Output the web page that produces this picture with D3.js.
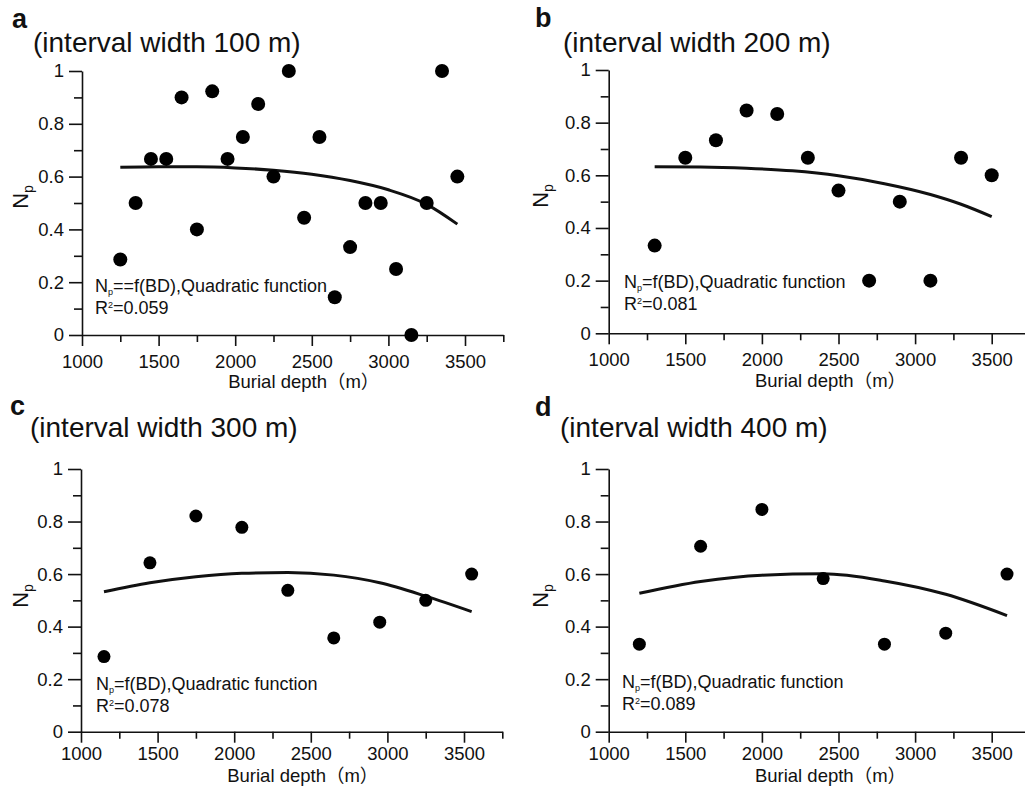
<html>
<head>
<meta charset="utf-8">
<script src="https://d3js.org/d3.v7.min.js"></script>
<style>
    html, body {
        width: 100%;
        height: 100%;
        margin: 0;
        padding: 0;
        background: #fff;
    }
    svg text {
        font-family: "Liberation Sans", Arial, "Noto Sans CJK SC", sans-serif;
        fill: #111;
    }
</style>
</head>
<body>
<script>
    // panel a (interval width 100 m)
    var depthA = [1250, 1350, 1450, 1550, 1650, 1750, 1850, 1950, 2050, 2150, 2250, 2350,
                  2450, 2550, 2650, 2750, 2850, 2950, 3050, 3150, 3250, 3350, 3450];
    var npA = [0.286, 0.5, 0.667, 0.667, 0.9, 0.4, 0.923, 0.667, 0.75, 0.875, 0.6, 1.0,
               0.444, 0.75, 0.143, 0.333, 0.5, 0.5, 0.25, 0, 0.5, 1.0, 0.6];
    var fitDepthA = [1250, 1500, 1750, 2000, 2250, 2500, 2750, 3000, 3250, 3450];
    var fitNpA = [0.635, 0.637, 0.637, 0.633, 0.624, 0.609, 0.585, 0.55, 0.495, 0.42];

    // panel b (interval width 200 m)
    var depthB = [1300, 1500, 1700, 1900, 2100, 2300, 2500, 2700, 2900, 3100, 3300, 3500];
    var npB = [0.333, 0.667, 0.733, 0.846, 0.833, 0.667, 0.542, 0.2, 0.5, 0.2, 0.667, 0.6];
    var fitDepthB = [1300, 1600, 1900, 2200, 2500, 2800, 3100, 3300, 3500];
    var fitNpB = [0.633, 0.632, 0.627, 0.617, 0.598, 0.568, 0.527, 0.49, 0.443];

    // panel c (interval width 300 m)
    var depthC = [1150, 1450, 1750, 2050, 2350, 2650, 2950, 3250, 3550];
    var npC = [0.286, 0.643, 0.821, 0.778, 0.538, 0.357, 0.417, 0.5, 0.6];
    var fitDepthC = [1150, 1450, 1750, 2050, 2350, 2650, 2950, 3250, 3550];
    var fitNpC = [0.533, 0.567, 0.59, 0.603, 0.606, 0.596, 0.567, 0.516, 0.457];

    // panel d (interval width 400 m)
    var depthD = [1200, 1600, 2000, 2400, 2800, 3200, 3600];
    var npD = [0.333, 0.706, 0.846, 0.583, 0.333, 0.375, 0.6];
    var fitDepthD = [1200, 1600, 2000, 2400, 2800, 3200, 3600];
    var fitNpD = [0.527, 0.572, 0.596, 0.601, 0.574, 0.523, 0.442];

    var panelLetters = ["a", "b", "c", "d"];
    var panelTitles = ["(interval width 100 m)", "(interval width 200 m)",
                       "(interval width 300 m)", "(interval width 400 m)"];
    var eqLabels = ["==f(BD),Quadratic function", "=f(BD),Quadratic function",
                    "=f(BD),Quadratic function", "=f(BD),Quadratic function"];
    var r2Labels = ["=0.059", "=0.081", "=0.078", "=0.089"];

    var xMajorTicks = [1000, 1500, 2000, 2500, 3000, 3500];
    var xMinorTicks = [1250, 1750, 2250, 2750, 3250, 3750];
    var yMajorTicks = [0, 0.2, 0.4, 0.6, 0.8, 1];
    var yMinorTicks = [0.1, 0.3, 0.5, 0.7, 0.9];
    var xDomain = [1000, 3750];
    var yDomain = [0, 1];

    var width = 1025;
    var height = 789;

    var svg = d3.select("body").append("svg")
        .attr("width", width)
        .attr("height", height);

    // layout of the four panels (pixels)
    var panels = [
        {x0: 82, y0: 335, y1: 71, r: 7, gap: 9, letter: [12, 28], title: [33, 52], eq: [95, 292], yl: [28, 197], xl: 388},
        {x0: 608.7, y0: 333.3, y1: 70, r: 7, gap: 9, letter: [535, 27], title: [563, 52], eq: [624, 288], yl: [548, 196], xl: 387},
        {x0: 81, y0: 731.7, y1: 469, r: 6.5, gap: 4, letter: [10, 415], title: [30, 437], eq: [96, 690], yl: [28, 596], xl: 782},
        {x0: 608.7, y0: 731.7, y1: 469, r: 6.5, gap: 4, letter: [535, 416], title: [560, 437], eq: [622, 688], yl: [548, 596], xl: 782}
    ];
    var depths = [depthA, depthB, depthC, depthD];
    var nps = [npA, npB, npC, npD];
    var fitDepths = [fitDepthA, fitDepthB, fitDepthC, fitDepthD];
    var fitNps = [fitNpA, fitNpB, fitNpC, fitNpD];

    panels.forEach(function (p, i) {
        var x = d3.scaleLinear().domain(xDomain).range([p.x0, p.x0 + 2750 * 0.1532]);
        var y = d3.scaleLinear().domain(yDomain).range([p.y0, p.y1]);
        var g = svg.append("g");

        // y axis
        g.append("g")
            .attr("transform", "translate(" + p.x0 + ",0)")
            .call(d3.axisLeft(y).tickValues(yMinorTicks).tickSize(8).tickSizeOuter(0).tickFormat(""))
            .call(function (s) { s.select(".domain").remove(); });
        g.append("g")
            .attr("transform", "translate(" + p.x0 + ",0)")
            .call(d3.axisLeft(y).tickValues(yMajorTicks).tickSize(13).tickSizeOuter(0).tickPadding(5)
                .tickFormat(function (d) { return d3.format("")(+d.toFixed(1)); }))
            .attr("font-size", 18.5);

        // x axis
        g.append("g")
            .attr("transform", "translate(0," + p.y0 + ")")
            .call(d3.axisBottom(x).tickValues(xMinorTicks).tickSize(7).tickSizeOuter(0).tickFormat(""))
            .call(function (s) { s.select(".domain").remove(); });
        g.append("g")
            .attr("transform", "translate(0," + p.y0 + ")")
            .call(d3.axisBottom(x).tickValues(xMajorTicks).tickSize(11).tickSizeOuter(0).tickPadding(p.gap)
                .tickFormat(d3.format("d")))
            .attr("font-size", 18.5);

        g.selectAll(".domain, .tick line").attr("stroke", "#111").attr("stroke-width", 1.6);
        g.selectAll(".tick text").attr("fill", "#111").attr("font-family", "Liberation Sans, Arial, sans-serif");

        // fitted curve
        var fit = fitDepths[i].map(function (d, k) { return [d, fitNps[i][k]]; });
        g.append("path")
            .datum(fit)
            .attr("fill", "none")
            .attr("stroke", "#111")
            .attr("stroke-width", 3)
            .attr("d", d3.line()
                .x(function (d) { return x(d[0]); })
                .y(function (d) { return y(d[1]); })
                .curve(d3.curveMonotoneX));

        // points
        var pts = depths[i].map(function (d, k) { return [d, nps[i][k]]; });
        g.selectAll("circle.pt")
            .data(pts)
            .enter().append("circle")
            .attr("class", "pt")
            .attr("cx", function (d) { return x(d[0]); })
            .attr("cy", function (d) { return y(d[1]); })
            .attr("r", p.r)
            .attr("fill", "#000");

        // panel letter and title
        g.append("text")
            .attr("x", p.letter[0]).attr("y", p.letter[1])
            .attr("font-size", 27).attr("font-weight", "bold")
            .text(panelLetters[i]);
        g.append("text")
            .attr("x", p.title[0]).attr("y", p.title[1])
            .attr("font-size", 28)
            .text(panelTitles[i]);

        // equation annotation
        var eq = g.append("text")
            .attr("x", p.eq[0]).attr("y", p.eq[1])
            .attr("font-size", 18);
        eq.append("tspan").text("N");
        eq.append("tspan").attr("font-size", 9).attr("dy", 3).text("p");
        eq.append("tspan").attr("dy", -3).text(eqLabels[i]);

        var r2 = g.append("text")
            .attr("x", p.eq[0]).attr("y", p.eq[1] + 22)
            .attr("font-size", 18);
        r2.append("tspan").text("R");
        r2.append("tspan").attr("font-size", 9).attr("dy", -6).text("2");
        r2.append("tspan").attr("dy", 6).text(r2Labels[i]);

        // y label
        var yl = g.append("text")
            .attr("transform", "translate(" + p.yl[0] + "," + p.yl[1] + ") rotate(-90)")
            .attr("text-anchor", "middle")
            .attr("font-size", 22);
        yl.append("tspan").text("N");
        yl.append("tspan").attr("font-size", 14).attr("dy", 5).text("p");

        // x label
        g.append("text")
            .attr("x", x(2500) - 8).attr("y", p.xl)
            .attr("text-anchor", "middle")
            .attr("font-size", 18.5)
            .text("Burial  depth（m）");
    });
</script>
</body>
</html>
